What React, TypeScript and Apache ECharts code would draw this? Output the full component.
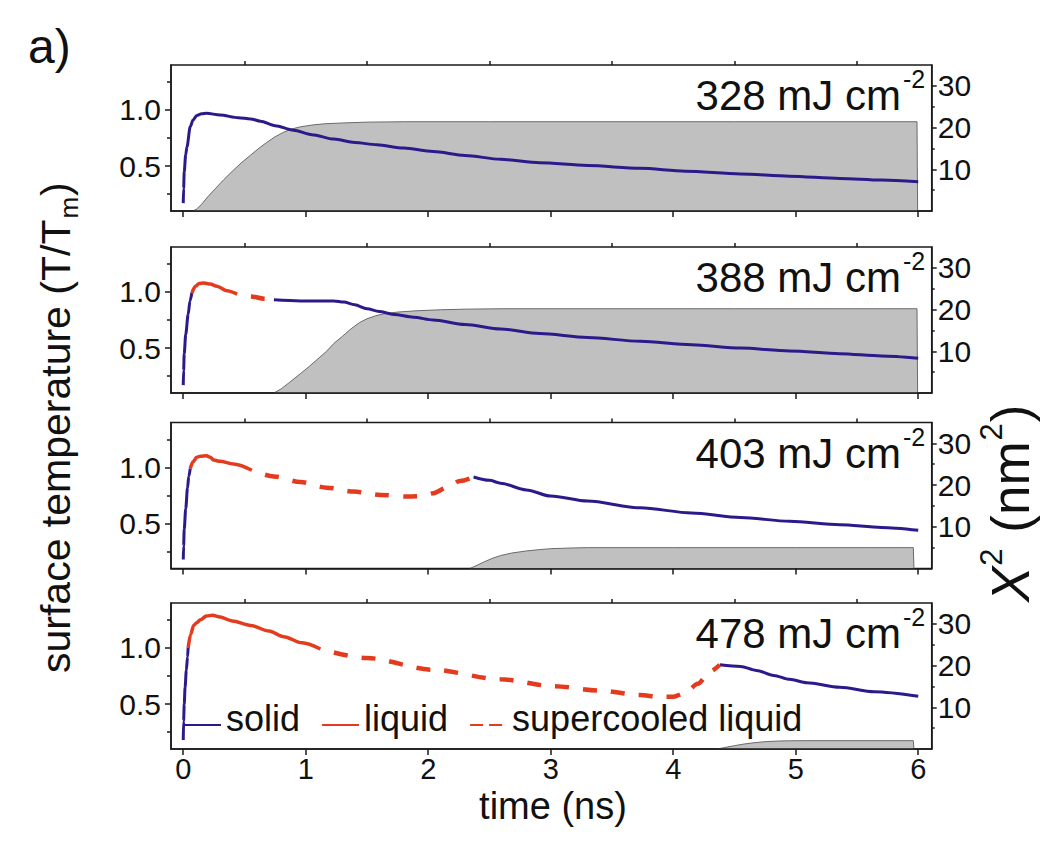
import React, { useEffect, useRef } from 'react';
import * as echarts from 'echarts';

const FONT = '"Liberation Sans", Arial, Helvetica, sans-serif';

// ---------------- data ----------------
const fluences = ['328', '388', '403', '478'];
const xMajorTicks = [0, 1, 2, 3, 4, 5, 6];
const xMinorTicks = [0.5, 1.5, 2.5, 3.5, 4.5, 5.5];
const yLeftMajor = [0.5, 1.0];
const yLeftMinor = [0.25, 0.75, 1.25];
const yRightMajor = [10, 20, 30];
const yRightMinor = [5, 15, 25];
const legendNames = ['solid', 'liquid', 'supercooled liquid'];

// panel 1 : 328 mJ cm-2
const p1Solid = [[0, 0.17], [0.003, 0.3], [0.008, 0.45], [0.02, 0.6], [0.03, 0.67], [0.057, 0.85], [0.08, 0.91], [0.11, 0.95], [0.15, 0.965], [0.19, 0.97], [0.3, 0.955], [0.45, 0.93], [0.55, 0.92], [0.63, 0.9], [0.75, 0.86], [0.9, 0.82], [1.05, 0.78], [1.23, 0.74], [1.4, 0.71], [1.58, 0.69], [1.8, 0.66], [2.04, 0.63], [2.3, 0.595], [2.59, 0.56], [2.91, 0.53], [3.3, 0.505], [3.73, 0.48], [4.1, 0.455], [4.55, 0.43], [4.95, 0.41], [5.36, 0.39], [5.7, 0.375], [6.0, 0.36]];
const p1X2 = [[0.08, 0], [0.11, 0.5], [0.15, 1.6], [0.2, 3.4], [0.26, 5.3], [0.33, 7.5], [0.41, 9.8], [0.48, 11.7], [0.55, 13.4], [0.62, 15.1], [0.68, 16.4], [0.75, 17.8], [0.82, 18.9], [0.89, 19.7], [0.96, 20.2], [1.05, 20.6], [1.15, 20.9], [1.3, 21.1], [1.5, 21.3], [1.8, 21.4], [2.5, 21.4], [3.5, 21.4], [4.5, 21.4], [5.5, 21.4], [5.99, 21.4], [5.995, 0]];

// panel 2 : 388 mJ cm-2
const p2SolidA = [[0, 0.17], [0.003, 0.3], [0.008, 0.45], [0.02, 0.62], [0.04, 0.8], [0.055, 0.92], [0.07, 0.99]];
const p2Liquid = [[0.07, 0.99], [0.1, 1.05], [0.13, 1.075], [0.166, 1.08], [0.22, 1.07], [0.275, 1.05], [0.357, 1.01], [0.44, 0.98]];
const p2Super = [[0.44, 0.98], [0.55, 0.96], [0.66, 0.94], [0.74, 0.93]];
const p2SolidB = [[0.74, 0.93], [0.955, 0.92], [1.1, 0.92], [1.23, 0.92], [1.31, 0.91], [1.4, 0.885], [1.5, 0.85], [1.6, 0.825], [1.72, 0.8], [1.88, 0.775], [2.04, 0.75], [2.3, 0.71], [2.59, 0.67], [2.91, 0.63], [3.3, 0.595], [3.73, 0.56], [4.15, 0.53], [4.55, 0.5], [4.95, 0.475], [5.36, 0.45], [5.7, 0.43], [6.0, 0.41]];
const p2X2 = [[0.74, 0], [0.8, 1.0], [0.87, 2.6], [0.955, 4.6], [1.03, 6.4], [1.1, 8.2], [1.17, 10.0], [1.23, 11.9], [1.3, 13.6], [1.37, 15.4], [1.44, 16.9], [1.5, 17.8], [1.57, 18.5], [1.64, 19.0], [1.75, 19.4], [1.9, 19.7], [2.1, 19.95], [2.31, 20.1], [2.6, 20.2], [3.5, 20.2], [4.5, 20.2], [5.5, 20.2], [5.99, 20.2], [5.995, 0]];

// panel 3 : 403 mJ cm-2
const p3SolidA = [[0, 0.18], [0.003, 0.3], [0.008, 0.45], [0.02, 0.63], [0.035, 0.82], [0.045, 0.92], [0.057, 0.99]];
const p3Liquid = [[0.057, 0.99], [0.08, 1.05], [0.11, 1.09], [0.14, 1.1], [0.19, 1.105], [0.22, 1.09], [0.25, 1.065], [0.3, 1.055], [0.41, 1.03], [0.56, 0.975]];
const p3Super = [[0.56, 0.975], [0.74, 0.92], [0.955, 0.87], [1.17, 0.82], [1.39, 0.785], [1.61, 0.755], [1.85, 0.74], [1.95, 0.745], [2.04, 0.77], [2.15, 0.82], [2.26, 0.88], [2.37, 0.915]];
const p3SolidB = [[2.37, 0.915], [2.5, 0.885], [2.59, 0.86], [2.8, 0.8], [3.0, 0.745], [3.3, 0.7], [3.73, 0.64], [4.15, 0.595], [4.55, 0.555], [4.95, 0.52], [5.36, 0.49], [5.7, 0.465], [6.0, 0.44]];
const p3X2 = [[2.34, 0], [2.4, 0.8], [2.45, 1.5], [2.52, 2.4], [2.59, 3.1], [2.68, 3.7], [2.8, 4.2], [2.9, 4.5], [3.0, 4.75], [3.15, 4.9], [3.3, 5.0], [4.0, 5.0], [5.0, 5.0], [5.96, 5.0], [5.965, 0]];

// panel 4 : 478 mJ cm-2
const p4SolidA = [[0, 0.18], [0.003, 0.35], [0.008, 0.5], [0.015, 0.65], [0.025, 0.8], [0.035, 0.92], [0.04, 1.0]];
const p4Liquid = [[0.04, 1.0], [0.06, 1.12], [0.085, 1.2], [0.11, 1.225], [0.14, 1.25], [0.19, 1.285], [0.24, 1.29], [0.3, 1.275], [0.4, 1.24], [0.55, 1.2], [0.7, 1.15], [0.82, 1.1], [0.97, 1.045], [1.12, 0.99]];
const p4Super = [[1.12, 0.99], [1.5, 0.91], [2.04, 0.805], [2.59, 0.72], [3.02, 0.66], [3.4, 0.62], [3.73, 0.58], [3.88, 0.565], [4.0, 0.565], [4.1, 0.6], [4.2, 0.68], [4.3, 0.79], [4.38, 0.85]];
const p4SolidB = [[4.38, 0.85], [4.55, 0.835], [4.68, 0.8], [4.82, 0.755], [4.95, 0.72], [5.09, 0.69], [5.36, 0.65], [5.64, 0.61], [6.0, 0.57]];
const p4X2 = [[4.36, 0], [4.43, 0.4], [4.5, 0.8], [4.58, 1.2], [4.66, 1.5], [4.75, 1.75], [4.85, 1.9], [4.95, 1.97], [5.1, 2.0], [5.96, 2.0], [5.965, 0]];

const panels = [
  { solid: [p1Solid], liquid: [], superc: [], x2: p1X2 },
  { solid: [p2SolidA, p2SolidB], liquid: [p2Liquid], superc: [p2Super], x2: p2X2 },
  { solid: [p3SolidA, p3SolidB], liquid: [p3Liquid], superc: [p3Super], x2: p3X2 },
  { solid: [p4SolidA, p4SolidB], liquid: [p4Liquid], superc: [p4Super], x2: p4X2 },
];

// ---------------- styles ----------------
const BLUE = '#2c1a8a';
const RED = '#e43b1f';
const AXIS = '#1a1a1a';
const TXT = '#111';

const GRID_LEFT = 171;
const GRID_WIDTH = 760.7;
const GRID_TOPS = [65, 247, 422.5, 603];
const GRID_H = 146;

function measure(text: string, size: number, italic = false) {
  const c = document.createElement('canvas').getContext('2d');
  if (!c) return text.length * size * 0.5;
  c.font = `${italic ? 'italic ' : ''}${size}px "Liberation Sans"`;
  return c.measureText(text).width;
}

function txt(text: string, x: number, y: number, size: number, align = 'left', italic = false, lineHeight?: number) {
  const style: any = {
    text,
    fill: TXT,
    fontSize: size,
    fontFamily: FONT,
    fontStyle: italic ? 'italic' : 'normal',
    align,
    verticalAlign: 'middle',
    textAlign: align,
    textVerticalAlign: 'middle',
  };
  if (lineHeight) style.lineHeight = lineHeight;
  return { type: 'text', x, y, silent: true, style };
}

function buildOption() {
  const grid: any[] = [];
  const xAxis: any[] = [];
  const yAxis: any[] = [];
  const series: any[] = [];
  const graphic: any[] = [];

  GRID_TOPS.forEach((top, g) => {
    grid.push({
      left: GRID_LEFT,
      width: GRID_WIDTH,
      top,
      height: GRID_H,
      show: true,
      borderColor: AXIS,
      borderWidth: 1.5,
      backgroundColor: 'transparent',
    });
    const isBottom = g === GRID_TOPS.length - 1;
    xAxis.push({
      type: 'value', gridIndex: g, min: -0.1, max: 6.11, z: 10,
      axisLine: { show: true, onZero: false, lineStyle: { color: AXIS, width: 1.5 } },
      axisTick: { show: true, customValues: xMajorTicks, length: 6, lineStyle: { color: AXIS, width: 1.5 } },
      axisLabel: { show: isBottom, customValues: xMajorTicks, fontSize: 29, lineHeight: 24, fontFamily: FONT, color: TXT, margin: 8 },
      splitLine: { show: false },
    });
    xAxis.push({
      type: 'value', gridIndex: g, min: -0.1, max: 6.11, z: 10,
      axisLine: { show: false, onZero: false },
      axisTick: { show: true, customValues: xMinorTicks, length: 4, lineStyle: { color: AXIS, width: 1.5 } },
      axisLabel: { show: false },
      splitLine: { show: false },
    });
    yAxis.push({
      type: 'value', gridIndex: g, min: 0.1, max: 1.4, position: 'left', z: 10,
      axisLine: { show: true, onZero: false, lineStyle: { color: AXIS, width: 1.5 } },
      axisTick: { show: true, customValues: yLeftMajor, length: 6, lineStyle: { color: AXIS, width: 1.5 } },
      axisLabel: { show: true, customValues: yLeftMajor, fontSize: 30, fontFamily: FONT, color: TXT, margin: 10, formatter: (v: number) => v.toFixed(1) },
      splitLine: { show: false },
    });
    yAxis.push({
      type: 'value', gridIndex: g, min: 0.1, max: 1.4, position: 'left', z: 10,
      axisLine: { show: false, onZero: false },
      axisTick: { show: true, customValues: yLeftMinor, length: 4, lineStyle: { color: AXIS, width: 1.5 } },
      axisLabel: { show: false },
      splitLine: { show: false },
    });
    yAxis.push({
      type: 'value', gridIndex: g, min: 0, max: 35, position: 'right', z: 10,
      axisLine: { show: true, onZero: false, lineStyle: { color: AXIS, width: 1.5 } },
      axisTick: { show: true, customValues: yRightMajor, length: 5, lineStyle: { color: AXIS, width: 1.5 } },
      axisLabel: { show: true, customValues: yRightMajor, fontSize: 30, fontFamily: FONT, color: TXT, margin: 6 },
      splitLine: { show: false },
    });
    yAxis.push({
      type: 'value', gridIndex: g, min: 0, max: 35, position: 'right', z: 10,
      axisLine: { show: false, onZero: false },
      axisTick: { show: true, customValues: yRightMinor, length: 3, lineStyle: { color: AXIS, width: 1.5 } },
      axisLabel: { show: false },
      splitLine: { show: false },
    });

    const p = panels[g];
    const base = { type: 'line', xAxisIndex: g * 2, symbol: 'none', showSymbol: false, silent: true };
    series.push({
      ...base, name: 'X2', yAxisIndex: g * 4 + 2, z: 1, data: p.x2, smooth: false,
      lineStyle: { color: '#6a6a6a', width: 1 }, itemStyle: { color: '#c0c0c0' },
      areaStyle: { color: '#c0c0c0', opacity: 1 },
    });
    const lineBase = { ...base, smooth: 0.3, smoothMonotone: 'x' };
    p.solid.forEach((d) => series.push({
      ...lineBase, name: 'solid', yAxisIndex: g * 4, z: 3, data: d,
      lineStyle: { color: BLUE, width: 3 }, itemStyle: { color: BLUE },
    }));
    p.liquid.forEach((d) => series.push({
      ...lineBase, name: 'liquid', yAxisIndex: g * 4, z: 3, data: d,
      lineStyle: { color: RED, width: 3.5 }, itemStyle: { color: RED },
    }));
    p.superc.forEach((d) => series.push({
      ...lineBase, name: 'supercooled liquid', yAxisIndex: g * 4, z: 3, data: d,
      lineStyle: { color: RED, width: 4.5, type: [14, 14], dashOffset: 14 }, itemStyle: { color: RED },
    }));

    // fluence annotation
    graphic.push(txt(`${fluences[g]} mJ cm`, 901, top + 45 - 14.5, 42, 'right'));
    graphic.push(txt('-2', 903, top + 23 - 8.7, 25, 'left'));
  });

  // y title (left)
  const fsT = 41;
  const mainT = 'surface temperature (T/T';
  const w1 = measure(mainT, fsT);
  const wSub = measure('m', 26);
  graphic.push({
    type: 'group', x: 70, y: 673, rotation: Math.PI / 2, silent: true,
    children: [
      txt(mainT, 0, -0.347 * fsT, fsT),
      txt('m', w1 + 1, 8 - 0.347 * 26, 26),
      txt(')', w1 + wSub + 2, -0.347 * fsT, fsT),
    ],
  });

  // y title (right)
  const fsR = 53;
  const fsS = 31;
  const wX = measure('X', fsR, true);
  const wS = measure('2', fsS);
  const wP = measure(' (nm', fsR);
  graphic.push({
    type: 'group', x: 1029, y: 602, rotation: Math.PI / 2, silent: true,
    children: [
      txt('X', 0, -0.347 * fsR, fsR, 'left', true),
      txt('2', wX + 1, -27 - 0.347 * fsS, fsS),
      txt(' (nm', wX + wS + 2, -0.347 * fsR, fsR),
      txt('2', wX + wS + wP + 3, -27 - 0.347 * fsS, fsS),
      txt(')', wX + 2 * wS + wP + 4, -0.347 * fsR, fsR),
    ],
  });

  // x title
  graphic.push(txt('time (ns)', 553, 806, 38, 'center'));
  // panel tag
  graphic.push(txt('a)', 28, 63 - 0.347 * 48, 48, 'left'));

  return {
    animation: false,
    backgroundColor: '#fff',
    grid,
    xAxis,
    yAxis,
    series,
    graphic,
    legend: {
      data: [
        { name: legendNames[0] },
        { name: legendNames[1] },
        { name: legendNames[2], lineStyle: { type: [13, 6], dashOffset: 0 } },
      ],
      left: 183,
      top: 700,
      padding: 0,
      itemWidth: 37,
      itemHeight: 14,
      itemGap: 21,
      selectedMode: false,
      itemStyle: { color: 'rgba(0,0,0,0)', borderWidth: 0, opacity: 0 },
      formatter: (name: string) => `{a|${name}}`,
      textStyle: {
        fontSize: 36, fontFamily: FONT, color: TXT,
        rich: { a: { fontSize: 36, fontFamily: FONT, color: TXT, padding: [0, 0, 14, 0] } },
      },
    },
  };
}

export default function App() {
  const ref = useRef<HTMLDivElement>(null);
  useEffect(() => {
    document.body.style.margin = '0';
    if (!ref.current) return;
    const chart = echarts.init(ref.current, undefined, { renderer: 'svg' });
    chart.setOption(buildOption() as any);
    return () => chart.dispose();
  }, []);
  return <div ref={ref} style={{ width: 1057, height: 848 }} />;
}
